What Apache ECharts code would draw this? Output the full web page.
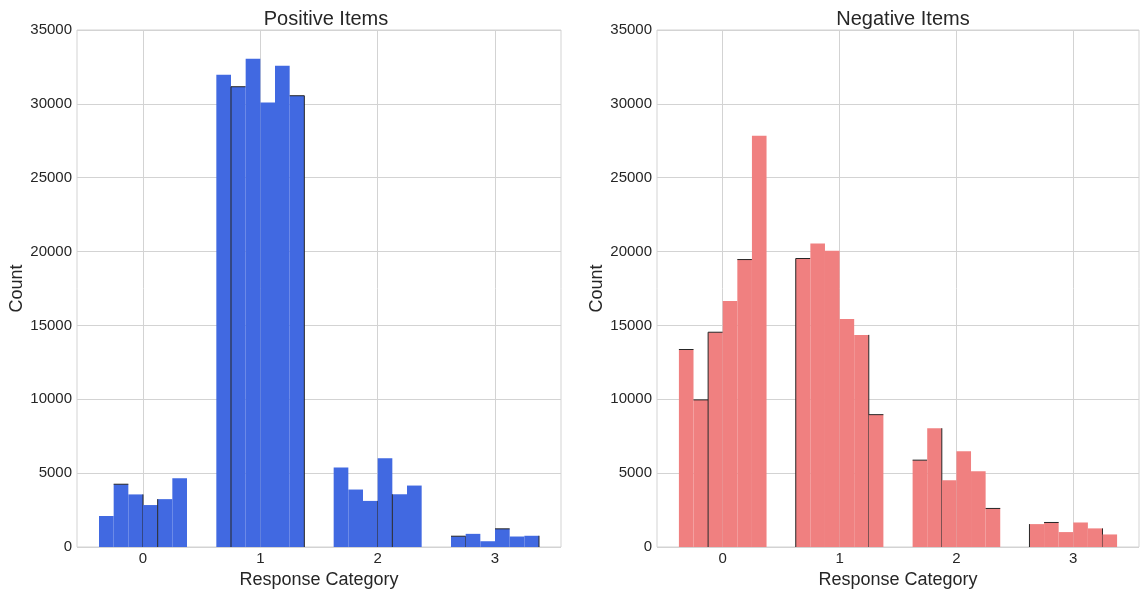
<!DOCTYPE html>
<html>
<head>
<meta charset="utf-8">
<script src="https://cdn.jsdelivr.net/npm/echarts@6/dist/echarts.min.js"></script>
<style>
  html, body { margin: 0; padding: 0; background: #fff; }
  #chart { width: 1140px; height: 594px; }
</style>
</head>
<body>
<div id="chart"></div>
<script>
// Response categories (x ticks)
var categories = [0, 1, 2, 3];
var yTicks = [0, 5000, 10000, 15000, 20000, 25000, 30000, 35000];

// Six item-bins per category
var positiveCounts = [
  [2100, 4250, 3560, 2840, 3240, 4660],
  [31970, 31160, 33050, 30100, 32580, 30550],
  [5390, 3890, 3120, 6000, 3570, 4160],
  [730, 890, 390, 1230, 710, 760]
];
var negativeCounts = [
  [13370, 9960, 14540, 16650, 19460, 27840],
  [19530, 20540, 20060, 15430, 14360, 8960],
  [5880, 8040, 4520, 6490, 5120, 2610],
  [1550, 1660, 1010, 1660, 1260, 850]
];
// dark edge marks visible on bins (L = left, T = top, R = right)
var positiveEdges = [
  ['', 'T', 'R', '', 'L', ''],
  ['', 'LT', '', '', '', 'TR'],
  ['', '', 'R', '', 'L', ''],
  ['TR', '', '', 'T', '', 'R']
];
var negativeEdges = [
  ['T', 'T', 'LT', '', 'T', ''],
  ['LT', '', '', '', 'R', 'T'],
  ['T', 'R', '', '', '', 'T'],
  ['L', 'T', '', '', 'R', '']
];

var BIN_W = 0.125;
var GROUP_HALF = 0.375;

function buildData(counts, edges) {
  var out = [];
  categories.forEach(function (c, g) {
    counts[g].forEach(function (v, i) {
      var x0 = c - GROUP_HALF + BIN_W * i;
      out.push([x0, x0 + BIN_W, v, edges[g][i]]);
    });
  });
  return out;
}

function makeRender(color) {
  return function (params, api) {
    var x0 = api.value(0), x1 = api.value(1), v = api.value(2);
    var edge = api.value(3);
    var p0 = api.coord([x0, v]);
    var p1 = api.coord([x1, 0]);
    var children = [{
      type: 'rect',
      shape: { x: p0[0], y: p0[1], width: p1[0] - p0[0], height: p1[1] - p0[1] },
      style: { fill: color }
    }];
    var ls = { stroke: '#262626', lineWidth: 1 };
    if (typeof edge === 'string') {
      if (edge.indexOf('L') >= 0) children.push({ type: 'line', shape: { x1: p0[0], y1: p0[1], x2: p0[0], y2: p1[1] }, style: ls });
      if (edge.indexOf('R') >= 0) children.push({ type: 'line', shape: { x1: p1[0], y1: p0[1], x2: p1[0], y2: p1[1] }, style: ls });
      if (edge.indexOf('T') >= 0) children.push({ type: 'line', shape: { x1: p0[0], y1: p0[1], x2: p1[0], y2: p0[1] }, style: ls });
    }
    return { type: 'group', children: children };
  };
}

var FONT = 'Liberation Sans, Arial, sans-serif';
var gridColor = '#d3d3d3';
var textColor = '#262626';

function xAxis(idx) {
  return {
    gridIndex: idx, type: 'value', min: -0.5625, max: 3.5625,
    name: 'Response Category', nameLocation: 'middle', nameGap: 24,
    nameTextStyle: { fontFamily: FONT, fontSize: 18, color: textColor },
    axisLine: { show: false },
    axisTick: { show: false, customValues: categories },
    axisLabel: { customValues: categories, fontFamily: FONT, fontSize: 15, color: textColor, margin: 4 },
    splitLine: { show: true, lineStyle: { color: gridColor, width: 1 } }
  };
}
function yAxis(idx) {
  return {
    gridIndex: idx, type: 'value', min: yTicks[0], max: yTicks[yTicks.length - 1], interval: 5000,
    name: 'Count', nameLocation: 'middle', nameGap: 45,
    nameTextStyle: { fontFamily: FONT, fontSize: 18, color: textColor },
    axisLine: { show: false }, axisTick: { show: false },
    axisLabel: { fontFamily: FONT, fontSize: 15, color: textColor, margin: 5,
      formatter: function (v) { return String(v); } },
    splitLine: { show: true, lineStyle: { color: gridColor, width: 1 } }
  };
}

var chart = echarts.init(document.getElementById('chart'), null, { renderer: 'canvas' });
chart.setOption({
  animation: false,
  backgroundColor: '#ffffff',
  title: [
    { text: 'Positive Items', left: 321, top: 4, textAlign: 'center',
      textStyle: { fontFamily: FONT, fontSize: 20, fontWeight: 'normal', color: textColor } },
    { text: 'Negative Items', left: 898, top: 4, textAlign: 'center',
      textStyle: { fontFamily: FONT, fontSize: 20, fontWeight: 'normal', color: textColor } }
  ],
  grid: [
    { left: 77, width: 484, top: 30, height: 519, show: true, borderColor: gridColor, borderWidth: 1 },
    { left: 657, width: 482, top: 30, height: 519, show: true, borderColor: gridColor, borderWidth: 1 }
  ],
  xAxis: [xAxis(0), xAxis(1)],
  yAxis: [yAxis(0), yAxis(1)],
  series: [
    { type: 'custom', xAxisIndex: 0, yAxisIndex: 0, renderItem: makeRender('#4169e1'),
      encode: { x: [0, 1], y: 2 }, data: buildData(positiveCounts, positiveEdges) },
    { type: 'custom', xAxisIndex: 1, yAxisIndex: 1, renderItem: makeRender('#f08080'),
      encode: { x: [0, 1], y: 2 }, data: buildData(negativeCounts, negativeEdges) }
  ]
});
</script>
</body>
</html>
